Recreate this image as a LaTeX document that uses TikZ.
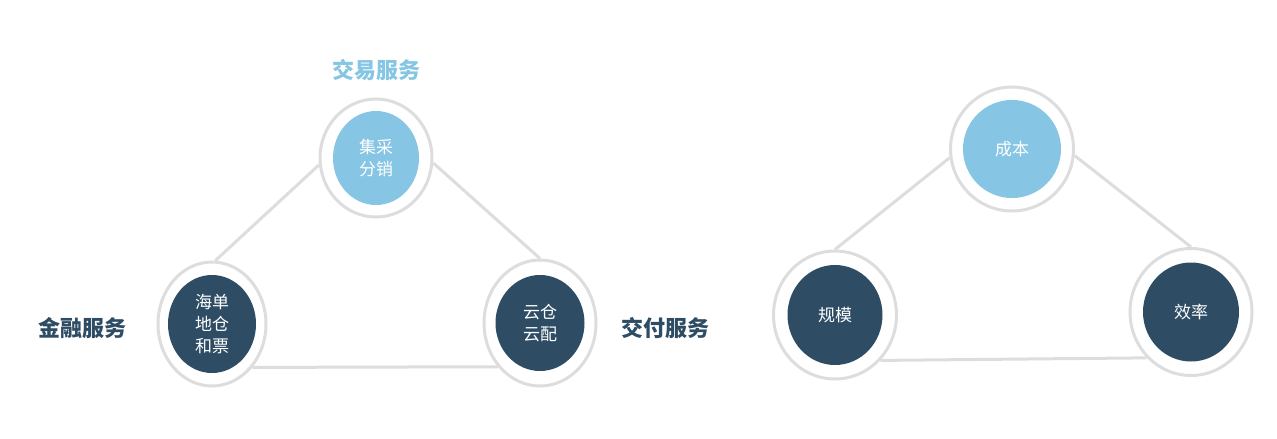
\documentclass[tikz,border=0pt]{standalone}
\usepackage{fontspec}
\newfontfamily\cjk{Noto Sans CJK SC}
\newfontfamily\cjkb{Noto Sans CJK SC Black}
\usetikzlibrary{shapes.geometric}
\definecolor{lightblue}{RGB}{134,197,227}
\definecolor{darkblue}{RGB}{46,77,101}
\definecolor{ringgray}{RGB}{221,221,221}
\tikzset{
  ring/.style={ellipse,draw=ringgray,line width=3pt,fill=white,inner sep=0pt},
  core/.style={ellipse,inner sep=0pt,text=white,font=\cjk\fontsize{17}{22}\selectfont,align=center},
  link/.style={draw=ringgray,line width=3pt},
  title/.style={font=\cjkb\fontsize{22}{26}\selectfont}
}
\begin{document}
\begin{tikzpicture}[x=1pt,y=1pt,yscale=-1,xscale=1]
\useasboundingbox (0,0) rectangle (1277,439);

%Left triangle
\node [ring,minimum width=112,minimum height=118] (trade) at (376,158) {};
\node [core,fill=lightblue,minimum width=86,minimum height=94] (tradein) at (376,158) {集采\\分销};
\node [ring,minimum width=108,minimum height=124] (finance) at (212,324) {};
\node [core,fill=darkblue,minimum width=88,minimum height=98] (financein) at (212,324) {海单\\地仓\\和票};
\node [ring,minimum width=112,minimum height=126] (deliver) at (540,323) {};
\node [core,fill=darkblue,minimum width=89,minimum height=96] (deliverin) at (540,323) {云仓\\云配};
\draw [link] (finance.87) -- (trade.187);
\draw [link] (trade.-5) -- (deliver.90);
\draw [link] (finance.-47) -- (deliver.226);

% Text Node
\node [title,text=lightblue] (tradelabel) at (376,70) {交易服务};
\node [title,text=darkblue] (financelabel) at (82,328) {金融服务};
\node [title,text=darkblue] (deliverlabel) at (665,328) {交付服务};

%Right triangle
\node [ring,minimum width=123,minimum height=124] (cost) at (1012,149) {};
\node [core,fill=lightblue,minimum width=98,minimum height=98] (costin) at (1012,149) {成本};
\node [ring,minimum width=123,minimum height=128] (scale) at (835,315) {};
\node [core,fill=darkblue,minimum width=95,minimum height=100] (scalein) at (835,315) {规模};
\node [ring,minimum width=122,minimum height=127] (rate) at (1191,312) {};
\node [core,fill=darkblue,minimum width=96,minimum height=99] (ratein) at (1191,312) {效率};
\draw [link] (scale.90) -- (cost.188);
\draw [link] (cost.-6) -- (rate.90);
\draw [link] (scale.-45) -- (rate.226);

\end{tikzpicture}
\end{document}
